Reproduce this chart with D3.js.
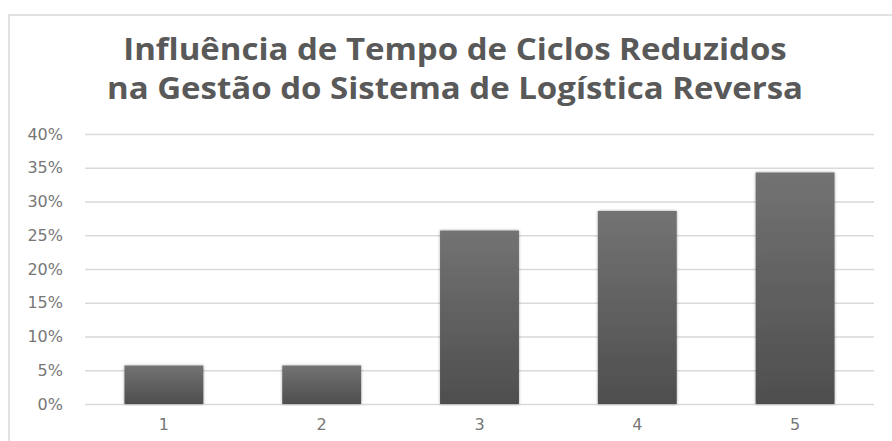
<!DOCTYPE html>
<html>
<head>
<meta charset="utf-8">
<script src="https://cdn.jsdelivr.net/npm/d3@7"></script>
<style>
  html, body { margin: 0; padding: 0; background: #ffffff; }
  svg { display: block; }
</style>
</head>
<body>
<svg id="chart" width="892" height="441"></svg>
<script>
const titleLines = ["Influência de Tempo de Ciclos Reduzidos", "na Gestão do Sistema de Logística Reversa"];
const categories = ["1", "2", "3", "4", "5"];
const values = [5.7, 5.7, 25.7, 28.6, 34.3];
const yTicks = [0, 5, 10, 15, 20, 25, 30, 35, 40];

const svg = d3.select("#chart");
const plot = { left: 85, right: 874, top: 134, bottom: 404 };

// chart frame
svg.append("rect")
  .attr("x", 9).attr("y", 15)
  .attr("width", 900).attr("height", 450)
  .attr("fill", "#ffffff")
  .attr("stroke", "#d9d9d9").attr("stroke-width", 1.5);

// defs
const defs = svg.append("defs");
const grad = defs.append("linearGradient").attr("id", "barGrad")
  .attr("x1", 0).attr("y1", 0).attr("x2", 0).attr("y2", 1);
grad.append("stop").attr("offset", "0%").attr("stop-color", "#737373");
grad.append("stop").attr("offset", "100%").attr("stop-color", "#4e4e4e");
const f = defs.append("filter").attr("id", "shadow")
  .attr("x", "-20%").attr("y", "-20%").attr("width", "140%").attr("height", "140%");
f.append("feGaussianBlur").attr("in", "SourceAlpha").attr("stdDeviation", 1.6).attr("result", "b");
f.append("feComponentTransfer").attr("in", "b").attr("result", "b2")
  .append("feFuncA").attr("type", "linear").attr("slope", 0.35);
const m = f.append("feMerge");
m.append("feMergeNode").attr("in", "b2");
m.append("feMergeNode").attr("in", "SourceGraphic");

const x = d3.scaleBand().domain(categories)
  .range([plot.left, plot.right])
  .paddingInner(0.5).paddingOuter(0.25);
const y = d3.scaleLinear().domain([0, 40]).range([plot.bottom, plot.top]);

// title (horizontally stretched like the reference)
const title = svg.append("g").attr("transform", "translate(455,0) scale(1.1,1)")
  .append("text")
  .attr("text-anchor", "middle")
  .attr("font-family", "'Open Sans', sans-serif")
  .attr("font-weight", 700)
  .attr("font-size", 30)
  .attr("fill", "#595959");
title.selectAll("tspan").data(titleLines).join("tspan")
  .attr("x", 0)
  .attr("y", (d, i) => 60 + i * 39)
  .text(d => d);

// gridlines + y labels via axis
const yAxis = d3.axisLeft(y).tickValues(yTicks)
  .tickSize(-(plot.right - plot.left))
  .tickPadding(22)
  .tickFormat(d => d + "%");
const gy = svg.append("g").attr("transform", `translate(${plot.left},0)`).call(yAxis);
gy.select(".domain").remove();
gy.selectAll(".tick line").attr("stroke", "#d9d9d9").attr("stroke-width", 1.5);
gy.selectAll(".tick text")
  .attr("font-family", "'DejaVu Sans', sans-serif")
  .attr("font-size", 16)
  .attr("fill", "#777777");

// bars
svg.append("g").selectAll("rect").data(values).join("rect")
  .attr("x", (d, i) => x(categories[i]))
  .attr("y", d => y(d))
  .attr("width", x.bandwidth())
  .attr("height", d => y(0) - y(d))
  .attr("fill", "url(#barGrad)")
  .attr("filter", "url(#shadow)");

// x axis labels
const xAxis = d3.axisBottom(x).tickSize(0).tickPadding(15);
const gx = svg.append("g").attr("transform", `translate(0,${plot.bottom})`).call(xAxis);
gx.select(".domain").remove();
gx.selectAll(".tick text")
  .attr("font-family", "'DejaVu Sans', sans-serif")
  .attr("font-size", 16)
  .attr("fill", "#777777");
</script>
</body>
</html>
